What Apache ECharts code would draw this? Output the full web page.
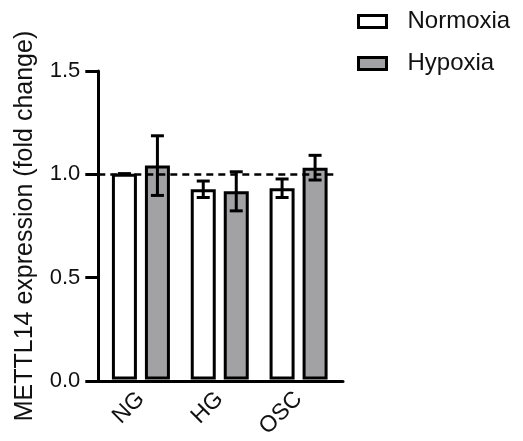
<!DOCTYPE html>
<html>
<head>
<meta charset="utf-8">
<script src="https://cdn.jsdelivr.net/npm/echarts@6/dist/echarts.min.js"></script>
<style>
  html, body { margin: 0; padding: 0; background: #fff; }
  #chart { width: 523px; height: 441px; }
</style>
</head>
<body>
<div id="chart"></div>
<script>
// METTL14 expression under normoxia / hypoxia, mean ± error
const categories = ['NG', 'HG', 'OSC'];
const normoxia = [1.0, 0.925, 0.93];
const normoxiaErr = [0, 0.04, 0.045];
const hypoxia = [1.04, 0.915, 1.03];
const hypoxiaErr = [0.145, 0.095, 0.06];
const seriesNames = ['Normoxia', 'Hypoxia'];
const yMin = 0, yMax = 1.5, yStep = 0.5;
const referenceLevel = 1.0;

const FONT = "'Liberation Sans', Arial, sans-serif";
const INK = '#111';
const GREY = '#a2a2a5';
const BAR_W = 25;
const BAR_GAP = 0.32;
const HALF_PITCH = BAR_W * (1 + BAR_GAP) / 2;

function errorItems(means, errs) {
  return means.map((m, i) => [i, m, errs[i]]);
}

function errorRenderer(offset) {
  return function (params, api) {
    const i = api.value(0), m = api.value(1), e = api.value(2);
    const hi = api.coord([i, m + e]);
    const lo = api.coord([i, m - e]);
    const x = hi[0] + offset;
    const cap = 6.5;
    const style = { stroke: '#000', lineWidth: 3 };
    return {
      type: 'group',
      children: [
        { type: 'line', shape: { x1: x, y1: hi[1], x2: x, y2: lo[1] }, style },
        { type: 'line', shape: { x1: x - cap, y1: hi[1], x2: x + cap, y2: hi[1] }, style },
        { type: 'line', shape: { x1: x - cap, y1: lo[1], x2: x + cap, y2: lo[1] }, style }
      ]
    };
  };
}

const chart = echarts.init(document.getElementById('chart'), null, { renderer: 'canvas' });

chart.setOption({
  animation: false,
  textStyle: { fontFamily: FONT, color: INK },
  legend: {
    data: seriesNames,
    orient: 'vertical',
    left: 357,
    top: 9.5,
    padding: 0,
    itemGap: 18,
    itemWidth: 28,
    itemHeight: 12,
    icon: 'rect',
    itemStyle: { borderColor: '#000', borderWidth: 3 },
    textStyle: { fontFamily: FONT, fontSize: 24, color: INK, lineHeight: 24, padding: [0, 0, 0, 16] }
  },
  grid: [
    // axes frame
    { left: 98.3, right: 180, top: 71, bottom: 60 },
    // bars
    { left: 101.5, right: 185, top: 71, bottom: 60 }
  ],
  xAxis: [
    {
      gridIndex: 0, type: 'value', min: 0, max: 1,
      axisLine: { show: true, lineStyle: { color: '#000', width: 3 } },
      axisTick: { show: false }, axisLabel: { show: false }, splitLine: { show: false }
    },
    {
      gridIndex: 1, type: 'category', data: categories,
      axisLine: { show: false }, axisTick: { show: false }, splitLine: { show: false },
      axisLabel: { rotate: 45, margin: 16, fontSize: 23, fontFamily: FONT, color: INK }
    }
  ],
  yAxis: [
    {
      gridIndex: 0, type: 'value', min: yMin, max: yMax, interval: yStep,
      name: 'METTL14 expression (fold change)',
      nameLocation: 'middle', nameGap: 61,
      nameTextStyle: { fontSize: 25, fontFamily: FONT, color: INK },
      axisLine: { show: true, lineStyle: { color: '#000', width: 3 } },
      axisTick: { show: true, length: 13, lineStyle: { color: '#000', width: 3 } },
      axisLabel: { fontSize: 22, fontFamily: FONT, color: INK, margin: 18,
                   formatter: v => v.toFixed(1) },
      splitLine: { show: false }
    },
    {
      gridIndex: 1, type: 'value', min: yMin, max: yMax, interval: yStep, show: false
    }
  ],
  series: [
    {
      name: seriesNames[0], type: 'bar', xAxisIndex: 1, yAxisIndex: 1,
      data: normoxia, barWidth: BAR_W, barGap: (BAR_GAP * 100) + '%', z: 2,
      itemStyle: { color: '#fff', borderColor: '#000', borderWidth: 3 }
    },
    {
      name: seriesNames[1], type: 'bar', xAxisIndex: 1, yAxisIndex: 1,
      data: hypoxia, barWidth: BAR_W, barGap: (BAR_GAP * 100) + '%', z: 2,
      itemStyle: { color: GREY, borderColor: '#000', borderWidth: 3 }
    },
    {
      type: 'line', xAxisIndex: 0, yAxisIndex: 0, data: [], z: 5,
      markLine: {
        silent: true, symbol: 'none', animation: false,
        label: { show: false },
        lineStyle: { color: '#000', width: 2.5, type: [7, 5] },
        data: [[{ coord: [0, referenceLevel] }, { coord: [0.98, referenceLevel] }]]
      }
    },
    {
      type: 'custom', xAxisIndex: 1, yAxisIndex: 1, z: 6,
      renderItem: errorRenderer(-HALF_PITCH),
      encode: { x: 0, y: 1 },
      data: errorItems(normoxia, normoxiaErr)
    },
    {
      type: 'custom', xAxisIndex: 1, yAxisIndex: 1, z: 6,
      renderItem: errorRenderer(HALF_PITCH),
      encode: { x: 0, y: 1 },
      data: errorItems(hypoxia, hypoxiaErr)
    }
  ]
});
</script>
</body>
</html>
